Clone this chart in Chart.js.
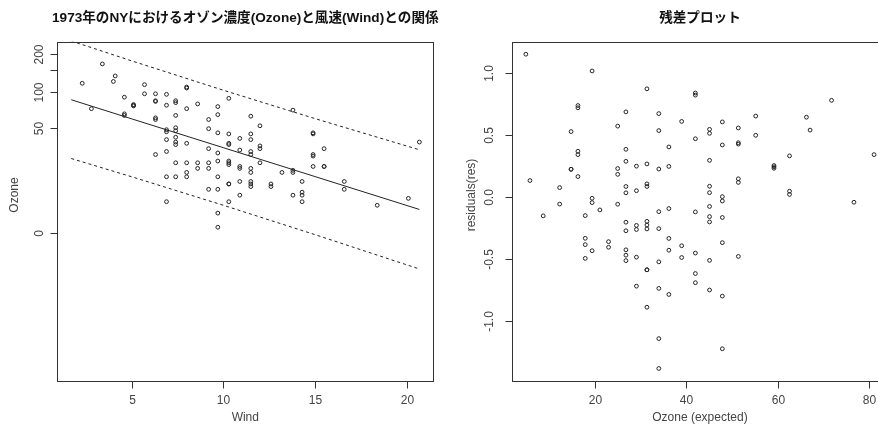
<!DOCTYPE html>
<html lang="ja">
<head>
  <meta charset="UTF-8" />
  <title>Ozone vs Wind</title>
  <style>
    body {
      margin: 0;
      background: #ffffff;
      overflow: hidden;
      width: 878px;
      height: 434px;
      position: relative;
    }
    .panel {
      position: absolute;
      top: 0;
      height: 434px;
    }
    #leftPanel { left: 0; width: 439px; }
    #rightPanel { left: 439px; width: 460px; }
  </style>
</head>
<body>

  <div class="panel" id="leftPanel"><canvas id="scatterChart"></canvas></div>
  <div class="panel" id="rightPanel"><canvas id="residChart"></canvas></div>

  <script src="https://cdn.jsdelivr.net/npm/chart.js"></script>
  <script>
    // airquality (1973, NY): observations with Ozone present
    const windObs = [
      7.4, 8.0, 12.6, 11.5, 14.9, 8.6, 13.8, 20.1, 6.9, 9.7, 9.2, 10.9, 13.2, 11.5, 12.0, 18.4,
      11.5, 9.7, 9.7, 16.6, 9.7, 12.0, 12.0, 14.9, 5.7, 7.4, 9.7, 13.8, 11.5, 8.0, 14.9, 20.7,
      9.2, 11.5, 10.3, 4.1, 9.2, 9.2, 4.6, 10.9, 5.1, 6.3, 5.7, 7.4, 14.3, 14.9, 14.3, 6.9,
      10.3, 6.3, 5.1, 11.5, 6.9, 8.6, 8.0, 8.6, 12.0, 7.4, 7.4, 7.4, 9.2, 6.9, 13.8, 7.4,
      6.9, 7.4, 4.6, 4.0, 10.3, 8.0, 11.5, 11.5, 9.7, 10.3, 6.3, 7.4, 10.9, 10.3, 15.5, 14.3,
      9.7, 3.4, 8.0, 9.7, 2.3, 6.3, 6.3, 6.9, 5.1, 2.8, 4.6, 7.4, 15.5, 10.9, 10.3, 10.9,
      9.7, 14.9, 15.5, 6.3, 10.9, 11.5, 6.9, 13.8, 10.3, 10.3, 8.0, 12.6, 9.2, 10.3, 10.3, 16.6,
      6.9, 14.3, 8.0, 11.5
    ];
    const ozoneObs = [
      41, 36, 12, 18, 28, 23, 19, 8, 7, 16, 11, 14, 18, 14, 34, 6,
      30, 11, 1, 11, 4, 32, 23, 45, 115, 37, 29, 71, 39, 23, 21, 37,
      20, 12, 13, 135, 49, 32, 64, 40, 77, 97, 97, 85, 10, 27, 7, 48,
      35, 61, 79, 63, 16, 80, 108, 20, 52, 82, 50, 64, 59, 39, 9, 16,
      78, 35, 66, 122, 89, 110, 44, 28, 65, 22, 59, 23, 31, 44, 21, 9,
      45, 168, 73, 76, 118, 84, 85, 96, 78, 73, 91, 47, 32, 20, 23, 21,
      24, 44, 21, 28, 9, 13, 46, 18, 13, 24, 16, 13, 23, 36, 7, 14,
      30, 14, 18, 20
    ];

    // fitted curve and dashed bands, read at a few Wind values
    const lineWind   = [1.7, 5, 10, 15, 20.7];
    const ozoneFit   = [86.7, 59.8, 32.7, 16.1, 4.9];
    const ozoneUpper = [253.2, 177.5, 103.7, 60.1, 31.2];
    const ozoneLower = [25.5, 16.0, 6.0, -0.3, -4.6];

    // residual plot (same order as above)
    const ozoneExpected = [
      45.1, 42.0, 23.0, 26.8, 16.3, 39.0, 19.4, 5.8, 47.9, 34.0, 36.2, 29.1, 21.1, 26.8, 25.0, 8.7,
      26.8, 34.0, 34.0, 12.3, 34.0, 25.0, 25.0, 16.3, 55.2, 45.1, 34.0, 19.4, 26.8, 42.0, 16.3, 4.9,
      36.2, 26.8, 31.4, 66.3, 36.2, 36.2, 62.6, 29.1, 59.2, 51.4, 55.2, 45.1, 17.9, 16.3, 17.9, 47.9,
      31.4, 51.4, 59.2, 26.8, 47.9, 39.0, 42.0, 39.0, 25.0, 45.1, 45.1, 45.1, 36.2, 47.9, 19.4, 45.1,
      47.9, 45.1, 62.6, 67.1, 31.4, 42.0, 26.8, 26.8, 34.0, 31.4, 51.4, 45.1, 29.1, 31.4, 14.8, 17.9,
      34.0, 71.8, 42.0, 34.0, 81.1, 51.4, 51.4, 47.9, 59.2, 76.7, 62.6, 45.1, 14.8, 29.1, 31.4, 29.1,
      34.0, 16.3, 14.8, 51.4, 29.1, 26.8, 47.9, 19.4, 31.4, 31.4, 42.0, 23.0, 36.2, 31.4, 31.4, 12.3,
      47.9, 17.9, 42.0, 26.8
    ];
    const residualValues = [
      -0.078, -0.122, -0.407, -0.274, 0.367, -0.395, -0.012, 0.131, -1.226, -0.525, -0.788, -0.487, -0.106, -0.428, 0.228, -0.154,
      0.083, -0.739, -1.385, -0.059, -1.144, 0.181, -0.060, 0.736, 0.651, -0.160, -0.120, 1.015, 0.286, -0.454, 0.163, 1.150,
      -0.431, -0.515, -0.589, 0.642, 0.245, -0.095, 0.019, 0.247, 0.230, 0.555, 0.496, 0.544, -0.335, 0.340, -0.497, 0.001,
      0.083, 0.145, 0.252, 0.685, -0.801, 0.608, 0.820, -0.490, 0.570, 0.512, 0.085, 0.294, 0.402, -0.167, -0.435, -0.752,
      0.418, -0.203, 0.045, 0.538, 0.871, 0.837, 0.383, 0.032, 0.534, -0.259, 0.116, -0.513, 0.049, 0.265, 0.222, -0.386,
      0.224, 0.778, 0.468, 0.671, 0.340, 0.425, 0.436, 0.604, 0.241, -0.044, 0.330, 0.033, 0.526, -0.264, -0.228, -0.231,
      -0.257, 0.718, 0.222, -0.481, -0.721, -0.471, -0.034, -0.047, -0.589, -0.198, -0.693, -0.362, -0.336, 0.104, -0.891, 0.074,
      -0.370, -0.152, -0.619, -0.205
    ];

    const windTicks = [5, 10, 15, 20];
    const ozoneTicks = [0, 50, 100, 150, 200];
    const ozoneTickLabels = ['0', '50', '100', '', '200'];
    const expectedTicks = [20, 40, 60, 80];
    const residTicks = [-1, -0.5, 0, 0.5, 1];
    const residTickLabels = ['-1.0', '-0.5', '0.0', '0.5', '1.0'];

    // y axis of the left plot is log(Ozone + 10)
    class OffsetLogScale extends Chart.LinearScale {
      configure() {
        super.configure();
        const k = this.options.shift;
        this._tStart = Math.log(this.min + k);
        this._tRange = Math.log(this.max + k) - this._tStart;
      }
      getPixelForValue(value) {
        return this.getPixelForDecimal((Math.log(value + this.options.shift) - this._tStart) / this._tRange);
      }
      getValueForPixel(pixel) {
        return Math.exp(this._tStart + this.getDecimalForPixel(pixel) * this._tRange) - this.options.shift;
      }
    }
    OffsetLogScale.id = 'offsetLog';
    OffsetLogScale.defaults = {};
    Chart.register(OffsetLogScale);

    const LABEL_FONT = '12px "Liberation Sans", Arial, sans-serif';
    const TITLE_FONT = 'bold 13.6px "Liberation Sans", Arial, "Noto Sans CJK JP", sans-serif';

    // R style box, ticks and labels
    const rAxes = {
      id: 'rAxes',
      afterDatasetsDraw(chart, args, o) {
        const { ctx, chartArea: a } = chart;
        const xs = chart.scales.x, ys = chart.scales.y;
        const L = Math.round(a.left) + 0.5, R = Math.round(a.right) + 0.5;
        const T = Math.round(a.top) + 0.5, B = Math.round(a.bottom) + 0.5;
        ctx.save();
        ctx.strokeStyle = '#333';
        ctx.lineWidth = 1;
        ctx.strokeRect(L, T, R - L, B - T);

        ctx.fillStyle = '#444';
        ctx.font = LABEL_FONT;
        ctx.textAlign = 'center';
        ctx.textBaseline = 'middle';

        o.xTicks.forEach((v, i) => {
          const px = Math.round(xs.getPixelForValue(v)) + 0.5;
          ctx.beginPath();
          ctx.moveTo(px, B);
          ctx.lineTo(px, B + 7);
          ctx.stroke();
          ctx.fillText(o.xLabels[i], px, o.xLabelY);
        });

        o.yTicks.forEach((v, i) => {
          const py = Math.round(ys.getPixelForValue(v)) + 0.5;
          ctx.beginPath();
          ctx.moveTo(L - 7, py);
          ctx.lineTo(L, py);
          ctx.stroke();
          if (o.yLabels[i]) {
            ctx.save();
            ctx.translate(o.yLabelX, py);
            ctx.rotate(-Math.PI / 2);
            ctx.fillText(o.yLabels[i], 0, 0);
            ctx.restore();
          }
        });

        ctx.fillText(o.xTitle, (a.left + a.right) / 2, o.xTitleY);
        ctx.save();
        ctx.translate(o.yTitleX, o.yTitleY);
        ctx.rotate(-Math.PI / 2);
        ctx.fillText(o.yTitle, 0, 0);
        ctx.restore();

        ctx.fillStyle = '#111';
        ctx.font = TITLE_FONT;
        ctx.fillText(o.title, (a.left + a.right) / 2, o.titleY);
        ctx.restore();
      }
    };

    const pointStyle = {
      showLine: false,
      pointStyle: 'circle',
      pointRadius: 1.9,
      pointBorderWidth: 1,
      pointBorderColor: '#222',
      pointBackgroundColor: 'rgba(0,0,0,0)'
    };

    const pairs = (xs, ys) => xs.map((x, i) => ({ x: x, y: ys[i] }));

    const lineStyle = (dash) => ({
      showLine: true,
      borderColor: '#222',
      borderWidth: 1,
      borderDash: dash,
      pointRadius: 0,
      tension: 0
    });

    new Chart(document.getElementById('scatterChart'), {
      type: 'scatter',
      data: {
        datasets: [
          Object.assign({ label: 'Ozone', data: pairs(windObs, ozoneObs) }, pointStyle),
          Object.assign({ label: 'fit', data: pairs(lineWind, ozoneFit) }, lineStyle([])),
          Object.assign({ label: 'upper', data: pairs(lineWind, ozoneUpper) }, lineStyle([3, 3])),
          Object.assign({ label: 'lower', data: pairs(lineWind, ozoneLower) }, lineStyle([3, 3]))
        ]
      },
      plugins: [rAxes],
      options: {
        responsive: true,
        maintainAspectRatio: false,
        animation: false,
        events: [],
        layout: { padding: { left: 57.3, right: 5.7, top: 41.7, bottom: 53 } },
        scales: {
          x: { type: 'linear', display: false, bounds: 'data', min: 0.94, max: 21.46 },
          y: { type: 'offsetLog', shift: 10, display: false, bounds: 'data', min: -9.2, max: 250 }
        },
        plugins: {
          legend: { display: false },
          tooltip: { enabled: false },
          rAxes: {
            title: '1973年のNYにおけるオゾン濃度(Ozone)と風速(Wind)との関係',
            titleY: 18,
            xTicks: windTicks,
            xLabels: windTicks.map(String),
            xLabelY: 400.5,
            xTitle: 'Wind',
            xTitleY: 418,
            yTicks: ozoneTicks,
            yLabels: ozoneTickLabels,
            yLabelX: 40,
            yTitle: 'Ozone',
            yTitleX: 14.5,
            yTitleY: 195
          }
        }
      }
    });

    new Chart(document.getElementById('residChart'), {
      type: 'scatter',
      data: {
        datasets: [
          Object.assign({ label: 'residuals', data: pairs(ozoneExpected, residualValues) }, pointStyle)
        ]
      },
      plugins: [rAxes],
      options: {
        responsive: true,
        maintainAspectRatio: false,
        animation: false,
        events: [],
        layout: { padding: { left: 72.9, right: 11, top: 41.7, bottom: 53 } },
        scales: {
          x: { type: 'linear', display: false, bounds: 'data', min: 1.85, max: 84.15 },
          y: { type: 'linear', display: false, bounds: 'data', min: -1.486, max: 1.251 }
        },
        plugins: {
          legend: { display: false },
          tooltip: { enabled: false },
          rAxes: {
            title: '残差プロット',
            titleY: 18,
            xTicks: expectedTicks,
            xLabels: expectedTicks.map(String),
            xLabelY: 400.5,
            xTitle: 'Ozone (expected)',
            xTitleY: 418,
            yTicks: residTicks,
            yLabels: residTickLabels,
            yLabelX: 51,
            yTitle: 'residuals(res)',
            yTitleX: 32.5,
            yTitleY: 195
          }
        }
      }
    });
  </script>

</body>
</html>
